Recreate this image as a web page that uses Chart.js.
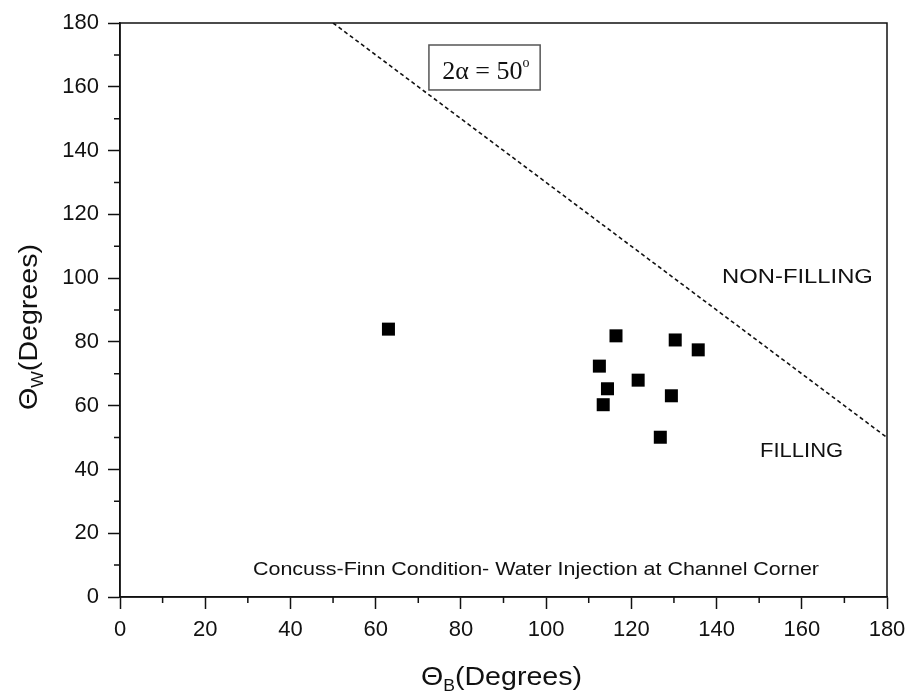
<!DOCTYPE html>
<html><head><meta charset="utf-8">
<script src="https://cdn.jsdelivr.net/npm/chart.js@4/dist/chart.umd.min.js"></script>
<style>html,body{margin:0;padding:0;background:#fff}#wrap{width:909px;height:692px}</style>
</head><body><div id="wrap"><canvas id="c" width="909" height="692"></canvas></div>
<script>
// ---- data ----
const thetaB = [63.0, 116.4, 130.3, 135.7, 112.5, 121.6, 114.4, 129.4, 113.4, 126.8];
const thetaW = [84.0, 81.9, 80.6, 77.5, 72.4, 68.0, 65.3, 63.1, 60.3, 50.1];
const boundaryB = [50, 180];
const boundaryW = [180, 50];
const majorTicks = [0, 20, 40, 60, 80, 100, 120, 140, 160, 180];
const minorTicks = [10, 30, 50, 70, 90, 110, 130, 150, 170];

const SANS = '"Liberation Sans", Arial, sans-serif';
const SERIF = '"Liberation Serif", "Times New Roman", serif';

function drawRuns(ctx, runs, x, y, sx, align, rot) {
  ctx.save();
  ctx.translate(x, y);
  if (rot) ctx.rotate(rot);
  ctx.scale(sx, 1);
  let total = 0;
  runs.forEach(r => { ctx.font = r.font; r.w = ctx.measureText(r.t).width; total += r.w; });
  let cx = align === 'center' ? -total / 2 : 0;
  ctx.textAlign = 'left';
  ctx.textBaseline = 'alphabetic';
  ctx.fillStyle = '#111';
  runs.forEach(r => { ctx.font = r.font; ctx.fillText(r.t, cx, r.dy || 0); cx += r.w; });
  ctx.restore();
}

const decor = {
  id: 'decor',
  beforeDraw(chart) {
    const ctx = chart.ctx;
    ctx.save(); ctx.fillStyle = '#fff'; ctx.fillRect(0, 0, chart.width, chart.height); ctx.restore();
  },
  afterDraw(chart) {
    const { ctx, chartArea: a, scales: { x, y } } = chart;
    ctx.save();
    ctx.strokeStyle = '#111';
    ctx.lineWidth = 1.5;
    ctx.strokeRect(a.left, a.top, a.right - a.left, a.bottom - a.top);
    ctx.beginPath();
    minorTicks.forEach(v => {
      const px = x.getPixelForValue(v);
      ctx.moveTo(px, a.bottom); ctx.lineTo(px, a.bottom + 6);
      const py = y.getPixelForValue(v);
      ctx.moveTo(a.left - 6, py); ctx.lineTo(a.left, py);
    });
    ctx.stroke();

    // annotation box
    const bx1 = x.getPixelForValue(72.5), bx2 = x.getPixelForValue(98.6);
    const by1 = y.getPixelForValue(173.1), by2 = y.getPixelForValue(159.0);
    ctx.strokeStyle = '#555';
    ctx.lineWidth = 1.5;
    ctx.strokeRect(bx1, by1, bx2 - bx1, by2 - by1);
    ctx.restore();

    drawRuns(ctx, [
      { t: '2\u03B1 = 50', font: '26px ' + SERIF },
      { t: 'o', font: '14px ' + SERIF, dy: -12 }
    ], x.getPixelForValue(75.6), y.getPixelForValue(162.4), 1.0, 'left');

    drawRuns(ctx, [{ t: 'NON-FILLING', font: '20px ' + SANS }],
      x.getPixelForValue(141.3), y.getPixelForValue(98.5), 1.19, 'left');
    drawRuns(ctx, [{ t: 'FILLING', font: '20px ' + SANS }],
      x.getPixelForValue(150.2), y.getPixelForValue(43.9), 1.1, 'left');
    drawRuns(ctx, [{ t: 'Concuss-Finn Condition- Water Injection at Channel Corner', font: '19px ' + SANS }],
      x.getPixelForValue(31.2), y.getPixelForValue(6.9), 1.13, 'left');

    // axis titles
    drawRuns(ctx, [
      { t: '\u0398', font: '26px ' + SANS },
      { t: 'B', font: '16px ' + SANS, dy: 6 },
      { t: '(Degrees)', font: '26px ' + SANS }
    ], (a.left + a.right) / 2 - 2, 685, 1.1, 'center');
    drawRuns(ctx, [
      { t: '\u0398', font: '26px ' + SANS },
      { t: 'W', font: '16px ' + SANS, dy: 6 },
      { t: '(Degrees)', font: '26px ' + SANS }
    ], 37, 327, 1.1, 'center', -Math.PI / 2);
  }
};

const scaleCommon = {
  type: 'linear',
  min: 0, max: 180,
  ticks: {
    stepSize: 20,
    padding: 8,
    color: '#111',
    font: { family: SANS, size: 22 },
    callback: v => majorTicks.includes(v) ? String(v) : ''
  },
  grid: { display: true, drawOnChartArea: false, drawTicks: true, tickLength: 12, tickColor: '#111', tickWidth: 1.5 },
  border: { display: true, color: '#111', width: 1.5 }
};

new Chart(document.getElementById('c'), {
  type: 'scatter',
  data: {
    datasets: [
      {
        label: 'Data',
        data: thetaB.map((b, i) => ({ x: b, y: thetaW[i] })),
        pointStyle: 'rect',
        pointRadius: 9.2,
        backgroundColor: '#000',
        borderColor: '#000',
        borderWidth: 0
      },
      {
        label: 'Concus-Finn boundary',
        type: 'line',
        data: boundaryB.map((b, i) => ({ x: b, y: boundaryW[i] })),
        borderColor: '#111',
        borderWidth: 1.6,
        borderDash: [4, 3],
        pointRadius: 0,
        fill: false,
        showLine: true
      }
    ]
  },
  options: {
    responsive: false,
    animation: false,
    devicePixelRatio: 1,
    layout: { padding: { left: 0, top: 23, right: 22, bottom: 0 } },
    plugins: { legend: { display: false }, tooltip: { enabled: false } },
    scales: {
      x: Object.assign({}, scaleCommon, {
        position: 'bottom',
        afterFit: s => { s.height = 95; s.paddingLeft = 0; s.paddingRight = 0; }
      }),
      y: Object.assign({}, scaleCommon, {
        position: 'left',
        ticks: Object.assign({}, scaleCommon.ticks, { padding: 9 }),
        afterFit: s => { s.width = 120; s.paddingTop = 0; s.paddingBottom = 0; }
      })
    }
  },
  plugins: [decor]
});
</script>
</body></html>
